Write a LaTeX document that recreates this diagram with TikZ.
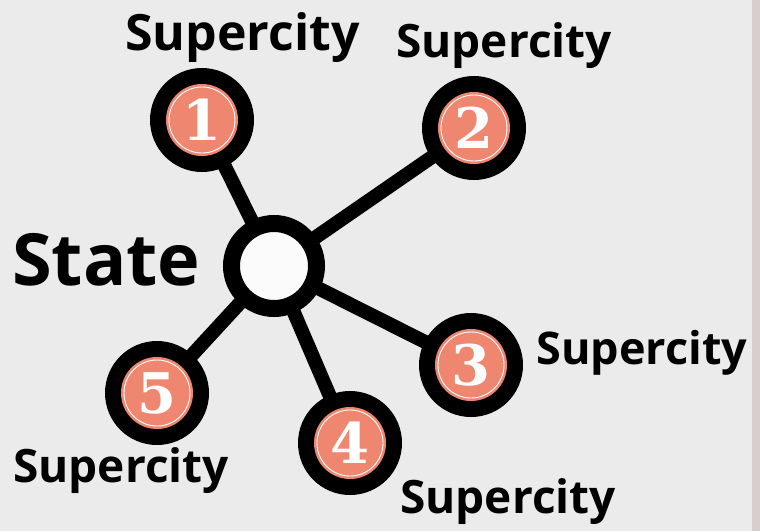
\documentclass[tikz,border=0pt]{standalone}
\usepackage{fontspec}
\setmainfont{Open Sans}
\newfontfamily\numfont{DejaVu Serif}
\usetikzlibrary{backgrounds}
\definecolor{bggray}{HTML}{EBEBEB}
\definecolor{stripgray}{HTML}{D7CECD}
\definecolor{salmon}{HTML}{EE8670}

\begin{document}
\begin{tikzpicture}[x=1pt,y=-1pt,
    every node/.style={font=\bfseries},
    city/.style={circle,fill=black,minimum size=104pt,inner sep=0pt,
      text=white,font=\numfont\bfseries\fontsize{56}{56}\selectfont,
      path picture={
        \fill[salmon] (path picture bounding box.center) circle (36pt);
        \draw[white,line width=0.9pt] (path picture bounding box.center) circle (33pt);
      }},
    hub/.style={circle,draw=black,line width=17pt,fill=white!97!gray,
      minimum size=85pt,inner sep=0pt},
    spoke/.style={black,line width=14pt},
    cityname/.style={anchor=base west,inner sep=0pt,
      font=\bfseries\fontsize{46}{46}\selectfont}]
  \useasboundingbox (0,0) rectangle (760,531);

  \node[hub] (st) at (274,266) {};
  \node[anchor=base west,inner sep=0pt,font=\bfseries\fontsize{72}{72}\selectfont]
    (stname) at (12,285) {State};

  \node[city] (c1) at (202,120) {1};
  \node[city] (c2) at (474,128) {2};
  \node[city] (c3) at (471,365) {3};
  \node[city] (c4) at (350,443) {4};
  \node[city] (c5) at (157,393) {5};

  \node[cityname,font=\bfseries\fontsize{50}{50}\selectfont] (n1) at (125,50) {Supercity};
  \node[cityname] (n2) at (396,57) {Supercity};
  \node[cityname,font=\bfseries\fontsize{45}{45}\selectfont] (n3) at (536,364) {Supercity};
  \node[cityname] (n4) at (400,513) {Supercity};
  \node[cityname] (n5) at (13,482) {Supercity};

  \begin{scope}[on background layer]
    \fill[bggray] (0,0) rectangle (760,531);
    \fill[stripgray] (752,0) rectangle (760,531);
    \foreach \c in {c1,c2,c3,c4,c5}
      \draw[spoke] (st.center) -- (\c.center);
  \end{scope}
\end{tikzpicture}
\end{document}
